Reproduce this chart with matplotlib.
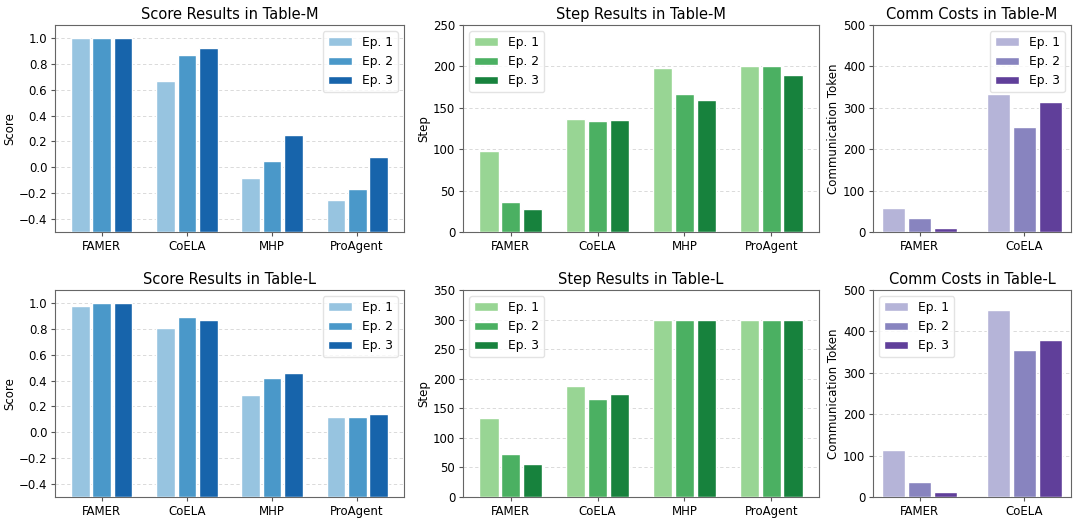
import matplotlib.pyplot as plt
import numpy as np

# data
methods = ['FAMER', 'CoELA', 'MHP', 'ProAgent']
comm_methods = ['FAMER', 'CoELA']
episodes = ['Ep. 1', 'Ep. 2', 'Ep. 3']

score_m = [[1.00, 0.67, -0.08, -0.25],
           [1.00, 0.87, 0.05, -0.17],
           [1.00, 0.92, 0.25, 0.08]]
score_l = [[0.98, 0.81, 0.29, 0.12],
           [1.00, 0.89, 0.42, 0.12],
           [1.00, 0.87, 0.46, 0.14]]
step_m = [[98, 137, 198, 200],
          [36, 134, 167, 200],
          [28, 135, 159, 190]]
step_l = [[133, 188, 300, 300],
          [72, 165, 300, 300],
          [56, 174, 300, 300]]
comm_m = [[57, 334],
          [34, 254],
          [10, 313]]
comm_l = [[113, 451],
          [36, 355],
          [12, 379]]

blues = ['#97c4e0', '#4a98c9', '#1764ab']
greens = ['#98d594', '#4bb062', '#17823d']
purples = ['#b5b4d8', '#8884bf', '#603f9a']

W, H = 1080, 526
fig = plt.figure(figsize=(W / 100, H / 100), dpi=100)

def px_axes(x0, y0, x1, y1):
    return fig.add_axes([x0 / W, 1 - y1 / H, (x1 - x0) / W, (y1 - y0) / H])

def bars(ax, cats, vals, colors, title, ylabel, ylim, yticks, loc, bottom=0, margin=0.55):
    x = np.arange(len(cats))
    step = 0.25
    for i, (v, c) in enumerate(zip(vals, colors)):
        v = np.array(v, dtype=float)
        ax.bar(x + (i - 1) * step, v - bottom, 0.22, bottom=bottom, color=c,
               edgecolor='white', linewidth=1.0, label=episodes[i], zorder=3)
    ax.set_xlim(x[0] - margin, x[-1] + margin)
    ax.set_xticks(x)
    ax.set_xticklabels(cats, fontsize=8.5)
    ax.set_ylim(*ylim)
    ax.set_yticks(yticks)
    ax.tick_params(axis='y', labelsize=8.5)
    ax.tick_params(axis='both', color='#555555', length=3, pad=2.5)
    ax.set_title(title, fontsize=10.5, pad=4)
    ax.set_ylabel(ylabel, fontsize=8.5, labelpad=2)
    ax.grid(axis='y', linestyle=(0, (4, 3)), color='#d5d5d5', linewidth=0.6, zorder=0)
    for s in ax.spines.values():
        s.set_color('#666666')
    ax.legend(loc=loc, fontsize=8.8, framealpha=0.8, edgecolor='#dddddd')

ax1 = px_axes(55, 25, 404, 232)
ax2 = px_axes(463, 25, 819, 232)
ax3 = px_axes(873, 25, 1071, 232)
ax4 = px_axes(55, 290, 404, 497)
ax5 = px_axes(463, 290, 819, 497)
ax6 = px_axes(873, 290, 1071, 497)

score_ticks = np.round(np.arange(-0.4, 1.01, 0.2), 1)
bars(ax1, methods, score_m, blues, 'Score Results in Table-M', 'Score',
     (-0.5, 1.1), score_ticks, 'upper right', bottom=-0.5)
bars(ax2, methods, step_m, greens, 'Step Results in Table-M', 'Step',
     (0, 250), np.arange(0, 251, 50), 'upper left')
bars(ax3, comm_methods, comm_m, purples, 'Comm Costs in Table-M', 'Communication Token',
     (0, 500), np.arange(0, 501, 100), 'upper right', margin=0.45)
bars(ax4, methods, score_l, blues, 'Score Results in Table-L', 'Score',
     (-0.5, 1.1), score_ticks, 'upper right', bottom=-0.5)
bars(ax5, methods, step_l, greens, 'Step Results in Table-L', 'Step',
     (0, 350), np.arange(0, 351, 50), 'upper left')
bars(ax6, comm_methods, comm_l, purples, 'Comm Costs in Table-L', 'Communication Token',
     (0, 500), np.arange(0, 501, 100), 'upper left', margin=0.45)

plt.savefig('out.png', dpi=100)
